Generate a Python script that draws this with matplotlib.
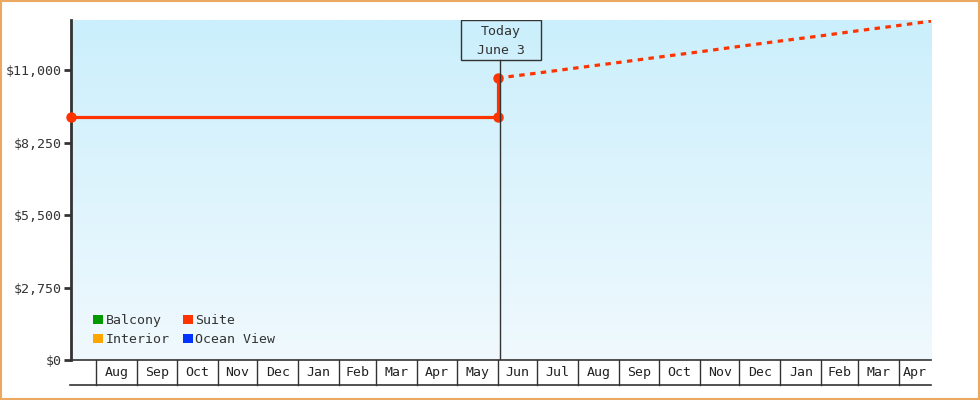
import matplotlib
matplotlib.use('Agg')
import matplotlib.pyplot as plt
import matplotlib.dates as mdates
import matplotlib.transforms as mtransforms
from matplotlib.patches import Patch, Rectangle
from matplotlib.colors import LinearSegmentedColormap
import numpy as np
import datetime as dt

# ---------------- data ----------------
history_dates = ['2024-07-13', '2025-06-01', '2025-06-01']
history_values = [9217, 9217, 10697]
forecast_dates = ['2025-06-01', '2025-07-01', '2025-08-01', '2025-09-01', '2025-10-01',
                  '2025-11-01', '2025-12-01', '2026-01-01', '2026-02-01', '2026-03-01',
                  '2026-04-01', '2026-04-25']
forecast_values = [10697, 10886, 11091, 11292, 11493, 11694, 11899, 12104, 12301,
                   12494, 12695, 12859]
today_date = '2025-06-03'
today_label = 'Today\nJune 3'
legend_names = ['Balcony', 'Interior', 'Suite', 'Ocean View']
legend_colors = ['#009900', '#ffa500', '#ff3300', '#0033ff']
y_ticks = [0, 2750, 5500, 8250, 11000]
y_tick_labels = ['$0', '$2,750', '$5,500', '$8,250', '$11,000']
month_starts = ['2024-08-01', '2024-09-01', '2024-10-01', '2024-11-01', '2024-12-01',
                '2025-01-01', '2025-02-01', '2025-03-01', '2025-04-01', '2025-05-01',
                '2025-06-01', '2025-07-01', '2025-08-01', '2025-09-01', '2025-10-01',
                '2025-11-01', '2025-12-01', '2026-01-01', '2026-02-01', '2026-03-01',
                '2026-04-01']
month_labels = ['Aug', 'Sep', 'Oct', 'Nov', 'Dec', 'Jan', 'Feb', 'Mar', 'Apr', 'May',
                'Jun', 'Jul', 'Aug', 'Sep', 'Oct', 'Nov', 'Dec', 'Jan', 'Feb', 'Mar', 'Apr']
x_start = '2024-07-13'
x_end = '2026-04-25'
y_max = 12900

def d(s):
    return mdates.date2num(dt.datetime.strptime(s, '%Y-%m-%d'))

FONT = 'DejaVu Sans Mono'
FS = 9.5
DARK = '#333333'
SUITE = '#ff3300'

fig = plt.figure(figsize=(9.8, 4.0), dpi=100)
fig.patch.set_facecolor('white')
# orange border
fig.patches.append(Rectangle((0.001, 0.002), 0.998, 0.995, transform=fig.transFigure,
                             fill=False, edgecolor='#eaa860', linewidth=1.5))

ax = fig.add_axes([71/980, 40/400, 860/980, 340/400])
x0, x1 = d(x_start), d(x_end)
ax.set_xlim(x0, x1)
ax.set_ylim(0, y_max)

# gradient background
cmap = LinearSegmentedColormap.from_list('bg', ['#f0f9fe', '#cbeffc'])
grad = np.linspace(0, 1, 256).reshape(-1, 1)
ax.imshow(grad, extent=[0, 1, 0, 1], transform=ax.transAxes, aspect='auto',
          cmap=cmap, origin='lower', zorder=0)

# series
hx = [d(s) for s in history_dates]
fx = [d(s) for s in forecast_dates]
ax.plot(fx, forecast_values, color=SUITE, lw=2.3, linestyle=(0, (1.7, 1.7)),
        zorder=3, solid_capstyle='butt', dash_capstyle='butt')
ax.plot(hx, history_values, color=SUITE, lw=2.3, marker='o', markersize=6.5,
        zorder=4, clip_on=False)

# today marker
t = d(today_date)
blend = mtransforms.blended_transform_factory(ax.transData, ax.transAxes)
box_h = 40/340
ax.plot([t, t], [0, 1 - box_h], color=DARK, lw=1, transform=blend, zorder=5)
ax.add_patch(Rectangle((t - 30, 1 - box_h), 61, box_h, transform=blend,
                       facecolor='none', edgecolor=DARK, lw=1, zorder=5))
ax.text(t + 0.5, 1 - box_h/2 - 1/340, today_label, transform=blend, ha='center', va='center',
        fontsize=FS, family=FONT, color=DARK, linespacing=1.5, zorder=6)

# spines / ticks
for s in ['top', 'right']:
    ax.spines[s].set_visible(False)
ax.spines['left'].set_color(DARK)
ax.spines['left'].set_linewidth(2)
ax.spines['bottom'].set_color(DARK)
ax.spines['bottom'].set_linewidth(1.2)
ax.set_yticks(y_ticks)
ax.set_yticklabels(y_tick_labels, family=FONT, fontsize=FS, color=DARK)
ax.tick_params(axis='y', length=5, width=2, color=DARK, pad=2)
ax.set_xticks([])

# month cells below axis
cell_h = 25/340
bounds = [x0] + [d(s) for s in month_starts] + [x1]
for b in [d(s) for s in month_starts]:
    ax.plot([b, b], [0, -cell_h], color=DARK, lw=1, transform=blend, clip_on=False)
ax.plot([x0 - 1, x1], [-cell_h, -cell_h], color=DARK, lw=1.2, transform=blend, clip_on=False)
for i, lab in enumerate(month_labels):
    a, b = bounds[i + 1], bounds[i + 2]
    ax.text((a + b) / 2, -cell_h/2, lab, transform=blend, ha='center', va='center',
            fontsize=FS, family=FONT, color='#222222', clip_on=False)

# legend
handles = [Patch(facecolor=c, edgecolor='none') for c in legend_colors]
leg = ax.legend(handles, legend_names, ncol=2, loc='lower left',
                bbox_to_anchor=(22/860, 14/340), frameon=False,
                prop={'family': FONT, 'size': FS}, handlelength=0.75, handleheight=0.75,
                handletextpad=0.2, columnspacing=1.0, labelspacing=0.45,
                borderpad=0, borderaxespad=0)
for txt in leg.get_texts():
    txt.set_color(DARK)

fig.savefig('out.png', dpi=100)
